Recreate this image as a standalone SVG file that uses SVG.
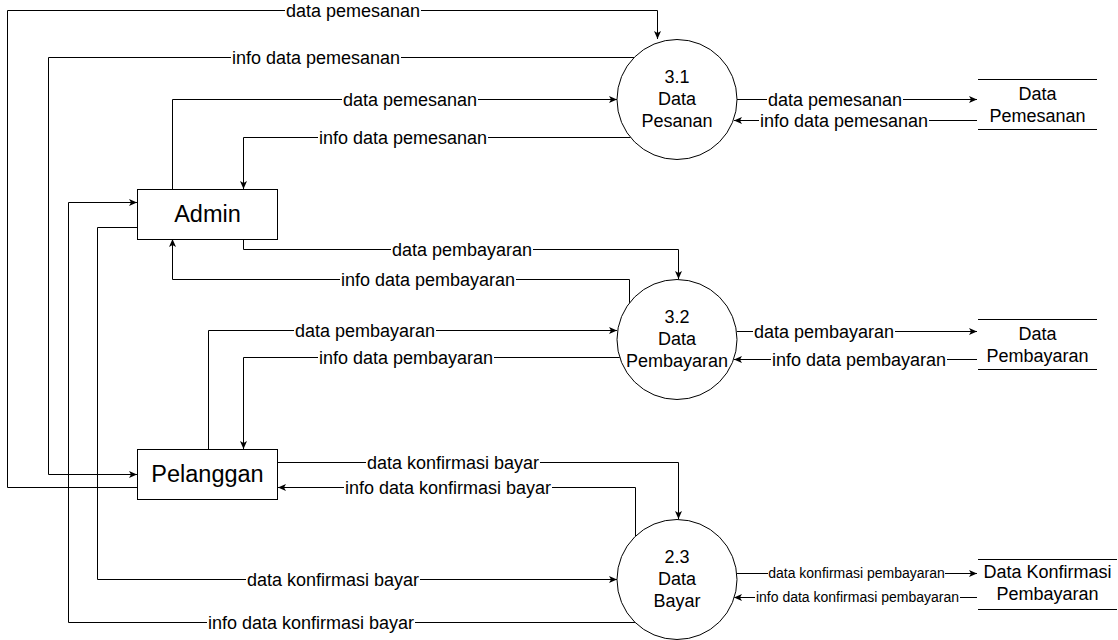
<svg xmlns="http://www.w3.org/2000/svg" width="1118" height="640" viewBox="0 0 1118 640">
<style>
text{font-family:"Liberation Sans",Arial,Helvetica,sans-serif;fill:#000;text-anchor:middle}
.lbl{font-size:18px}
.sm{font-size:14px}
.node{font-size:23.5px}
.proc{font-size:18px}
.ln{fill:none;stroke:#000;stroke-width:1}
.bg{fill:#fff}
.shape{fill:#fff;stroke:#000;stroke-width:1}
</style>
<defs>
<marker id="arr" markerWidth="10" markerHeight="10" refX="9" refY="5" orient="auto" markerUnits="userSpaceOnUse">
<path d="M1,1.5 L9,5 L1,8.5 L3,5 z" fill="#000"/>
</marker>
</defs>
<rect width="1118" height="640" fill="#fff"/>
<g id="connectors">
<path class="ln" marker-end="url(#arr)" d="M137,487.5 H7.5 V10.5 H657.5 V39"/>
<path class="ln" marker-end="url(#arr)" d="M634,57.5 H48.5 V474.5 H137"/>
<path class="ln" marker-end="url(#arr)" d="M172.5,189 V99.5 H617"/>
<path class="ln" marker-end="url(#arr)" d="M631,137.5 H243.5 V189"/>
<path class="ln" marker-end="url(#arr)" d="M243.5,239 V249.5 H678.5 V279"/>
<path class="ln" marker-end="url(#arr)" d="M629.5,303 V279.5 H172.5 V239"/>
<path class="ln" marker-end="url(#arr)" d="M208.5,449 V330.5 H617"/>
<path class="ln" marker-end="url(#arr)" d="M620,357.5 H243.5 V449"/>
<path class="ln" marker-end="url(#arr)" d="M278,462.5 H678.5 V519"/>
<path class="ln" marker-end="url(#arr)" d="M635.5,536 V487.5 H278"/>
<path class="ln" marker-end="url(#arr)" d="M137,227.5 H97.5 V579.5 H617"/>
<path class="ln" marker-end="url(#arr)" d="M635,622.5 H68.5 V202.5 H137"/>
<path class="ln" marker-end="url(#arr)" d="M737,99.5 H977"/>
<path class="ln" marker-end="url(#arr)" d="M977,120.5 H734"/>
<path class="ln" marker-end="url(#arr)" d="M737,331.5 H977"/>
<path class="ln" marker-end="url(#arr)" d="M977,359.5 H734"/>
<path class="ln" marker-end="url(#arr)" d="M737,573.5 H977"/>
<path class="ln" marker-end="url(#arr)" d="M977,597.5 H734"/>
<rect class="bg" x="285" y="1" width="136" height="18"/>
<text class="lbl" x="353" y="17">data pemesanan</text>
<rect class="bg" x="231" y="48" width="170" height="18"/>
<text class="lbl" x="316" y="64">info data pemesanan</text>
<rect class="bg" x="342" y="90" width="136" height="18"/>
<text class="lbl" x="410" y="106">data pemesanan</text>
<rect class="bg" x="318" y="128" width="170" height="18"/>
<text class="lbl" x="403" y="144">info data pemesanan</text>
<rect class="bg" x="391" y="240" width="142" height="18"/>
<text class="lbl" x="462" y="256">data pembayaran</text>
<rect class="bg" x="340" y="270" width="176" height="18"/>
<text class="lbl" x="428" y="286">info data pembayaran</text>
<rect class="bg" x="294" y="321" width="142" height="18"/>
<text class="lbl" x="365" y="337">data pembayaran</text>
<rect class="bg" x="318" y="348" width="176" height="18"/>
<text class="lbl" x="406" y="364">info data pembayaran</text>
<rect class="bg" x="366" y="453" width="174" height="18"/>
<text class="lbl" x="453" y="469">data konfirmasi bayar</text>
<rect class="bg" x="344" y="478" width="208" height="18"/>
<text class="lbl" x="448" y="494">info data konfirmasi bayar</text>
<rect class="bg" x="246" y="570" width="174" height="18"/>
<text class="lbl" x="333" y="586">data konfirmasi bayar</text>
<rect class="bg" x="207" y="613" width="208" height="18"/>
<text class="lbl" x="311" y="629">info data konfirmasi bayar</text>
<rect class="bg" x="767" y="90" width="136" height="18"/>
<text class="lbl" x="835" y="106">data pemesanan</text>
<rect class="bg" x="759" y="111" width="170" height="18"/>
<text class="lbl" x="844" y="127">info data pemesanan</text>
<rect class="bg" x="753" y="322" width="142" height="18"/>
<text class="lbl" x="824" y="338">data pembayaran</text>
<rect class="bg" x="771" y="350" width="176" height="18"/>
<text class="lbl" x="859" y="366">info data pembayaran</text>
<rect class="bg" x="768" y="566" width="177" height="15"/>
<text class="sm" x="856.5" y="578">data konfirmasi pembayaran</text>
<rect class="bg" x="755" y="590" width="205" height="15"/>
<text class="sm" x="857.5" y="602">info data konfirmasi pembayaran</text>
</g>
<g id="admin">
<rect class="shape" x="137.5" y="189.5" width="140" height="50"/>
<text class="node" x="207.5" y="222">Admin</text>
</g>
<g id="pelanggan">
<rect class="shape" x="137.5" y="449.5" width="140" height="50"/>
<text class="node" x="207.5" y="482">Pelanggan</text>
</g>
<g id="p31">
<circle class="shape" cx="677" cy="99.5" r="60"/>
<text class="proc" x="677" y="83">3.1</text>
<text class="proc" x="677" y="105">Data</text>
<text class="proc" x="677" y="127">Pesanan</text>
</g>
<g id="p32">
<circle class="shape" cx="677" cy="339.5" r="60"/>
<text class="proc" x="677" y="323">3.2</text>
<text class="proc" x="677" y="345">Data</text>
<text class="proc" x="677" y="367">Pembayaran</text>
</g>
<g id="p23">
<circle class="shape" cx="677" cy="579.5" r="60"/>
<text class="proc" x="677" y="563">2.3</text>
<text class="proc" x="677" y="585">Data</text>
<text class="proc" x="677" y="607">Bayar</text>
</g>
<g id="store-pemesanan">
<path class="ln" d="M978,79.5 H1097 M978,129.5 H1097"/>
<text class="proc" x="1037.5" y="100">Data</text>
<text class="proc" x="1037.5" y="122">Pemesanan</text>
</g>
<g id="store-pembayaran">
<path class="ln" d="M978,319.5 H1097 M978,369.5 H1097"/>
<text class="proc" x="1037.5" y="340">Data</text>
<text class="proc" x="1037.5" y="362">Pembayaran</text>
</g>
<g id="store-konfirmasi">
<path class="ln" d="M978,559.5 H1117 M978,609.5 H1117"/>
<text class="proc" x="1047.5" y="578">Data Konfirmasi</text>
<text class="proc" x="1047.5" y="600">Pembayaran</text>
</g>
</svg>
